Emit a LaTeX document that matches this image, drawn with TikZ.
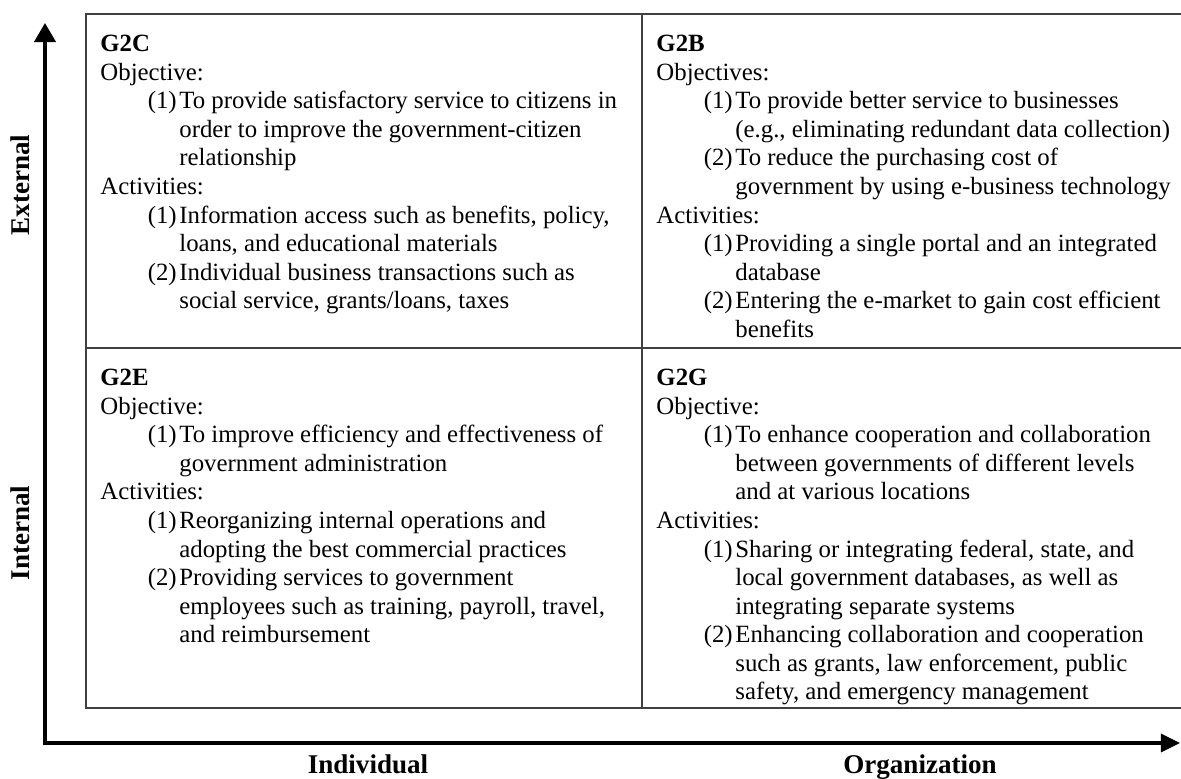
\documentclass[tikz,border=0pt]{standalone}
\usepackage{fontspec}
\setmainfont{Liberation Serif}
\usetikzlibrary{arrows.meta}

\newcommand{\itm}[2]{\hspace*{21pt}\makebox[14pt][l]{#1}#2}
\newcommand{\cnt}[1]{\hspace*{35pt}#1}

\tikzset{
  cell/.style={anchor=north west, inner sep=0pt, align=left,
    font=\fontsize{11}{12.65}\selectfont},
  grid/.style={line width=0.7pt, draw=black!75},
  axis/.style={line width=1.4pt,
    {Triangle[length=8.5pt,width=9.5pt]}-{Triangle[length=8.5pt,width=8pt]}},
  axislabel/.style={font=\fontsize{12}{14}\selectfont\bfseries}
}

\begin{document}
\begin{tikzpicture}[x=0.4435pt,y=-0.4435pt]
\useasboundingbox (0,0) rectangle (1181,779);

% the four cells
\draw[grid] (1181,14) -- (86,14) -- (86,708) -- (1181,708);
\draw[grid] (86,348) -- (1181,348);
\draw[grid] (642,14) -- (642,708);

\node[cell] (g2c) at (100,35) {\textbf{G2C}\\
Objective:\\
\itm{(1)}{To provide satisfactory service to citizens in}\\
\cnt{order to improve the government-citizen}\\
\cnt{relationship}\\
Activities:\\
\itm{(1)}{Information access such as benefits, policy,}\\
\cnt{loans, and educational materials}\\
\itm{(2)}{Individual business transactions such as}\\
\cnt{social service, grants/loans, taxes}};

\node[cell] (g2b) at (656,35) {\textbf{G2B}\\
Objectives:\\
\itm{(1)}{To provide better service to businesses}\\
\cnt{(e.g., eliminating redundant data collection)}\\
\itm{(2)}{To reduce the purchasing cost of}\\
\cnt{government by using e-business technology}\\
Activities:\\
\itm{(1)}{Providing a single portal and an integrated}\\
\cnt{database}\\
\itm{(2)}{Entering the e-market to gain cost efficient}\\
\cnt{benefits}};

\node[cell] (g2e) at (100,369) {\textbf{G2E}\\
Objective:\\
\itm{(1)}{To improve efficiency and effectiveness of}\\
\cnt{government administration}\\
Activities:\\
\itm{(1)}{Reorganizing internal operations and}\\
\cnt{adopting the best commercial practices}\\
\itm{(2)}{Providing services to government}\\
\cnt{employees such as training, payroll, travel,}\\
\cnt{and reimbursement}};

\node[cell] (g2g) at (656,369) {\textbf{G2G}\\
Objective:\\
\itm{(1)}{To enhance cooperation and collaboration}\\
\cnt{between governments of different levels}\\
\cnt{and at various locations}\\
Activities:\\
\itm{(1)}{Sharing or integrating federal, state, and}\\
\cnt{local government databases, as well as}\\
\cnt{integrating separate systems}\\
\itm{(2)}{Enhancing collaboration and cooperation}\\
\cnt{such as grants, law enforcement, public}\\
\cnt{safety, and emergency management}};

% axes
\coordinate (origin) at (45,743);
\coordinate (ytip) at (45,23);
\coordinate (xtip) at (1180,743);
\draw[axis] (ytip) -- (origin) -- (xtip);

\node[axislabel, rotate=90] (ext) at (20,185) {External};
\node[axislabel, rotate=90] (int) at (20,533) {Internal};
\node[axislabel, anchor=base] (indiv) at (368,773) {Individual};
\node[axislabel, anchor=base] (org) at (920,773) {Organization};
\end{tikzpicture}
\end{document}
